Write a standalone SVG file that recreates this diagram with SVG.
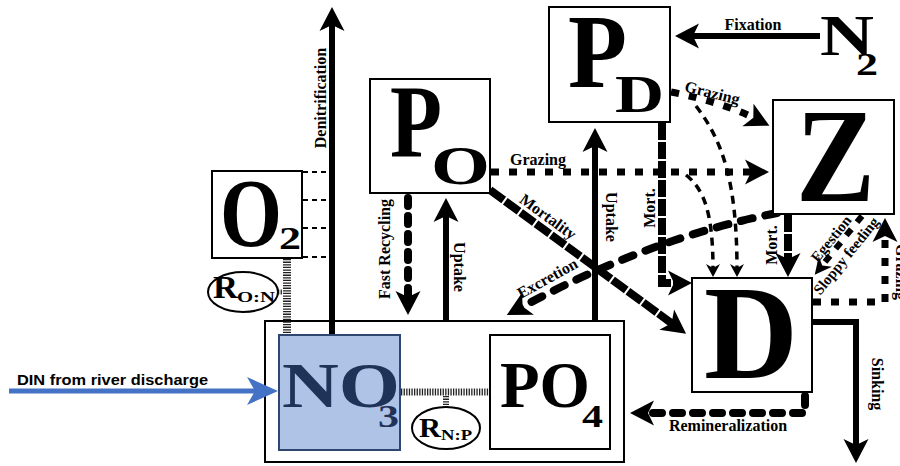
<svg xmlns="http://www.w3.org/2000/svg" width="900" height="466" viewBox="0 0 900 466">
<defs>
<marker id="ah" markerUnits="userSpaceOnUse" markerWidth="40" markerHeight="40" refX="0" refY="0" orient="auto" overflow="visible"><path d="M15,0 L-9,-12.5 L-3,0 L-9,12.5 Z" fill="#000"/></marker>
<marker id="am" markerUnits="userSpaceOnUse" markerWidth="30" markerHeight="30" refX="0" refY="0" orient="auto" overflow="visible"><path d="M10,0 L-7,-8.5 L-2,0 L-7,8.5 Z" fill="#000"/></marker>
<marker id="as" markerUnits="userSpaceOnUse" markerWidth="20" markerHeight="20" refX="0" refY="0" orient="auto" overflow="visible"><path d="M7,0 L-6,-7 L-2,0 L-6,7 Z" fill="#000"/></marker>
<marker id="ab" markerUnits="userSpaceOnUse" markerWidth="40" markerHeight="40" refX="0" refY="0" orient="auto" overflow="visible"><path d="M10,0 L-21,-14 L-13,0 L-21,14 Z" fill="#4472c4"/></marker>
</defs>
<style>
.box{fill:#fff;stroke:#000;stroke-width:2}
.big{font-family:"Liberation Serif","Times New Roman",serif;font-weight:bold;fill:#000}
.lbl{font-family:"Liberation Serif","Times New Roman",serif;font-weight:bold;font-size:16px;fill:#000}
.sm{font-size:15px}
.solid{fill:none;stroke:#000;stroke-width:6}
.seg{fill:none;stroke:#000;stroke-width:8;stroke-dasharray:17 2}
.dot{fill:none;stroke:#000;stroke-width:7;stroke-dasharray:8 10}
.rnd{fill:none;stroke:#000;stroke-width:8;stroke-linecap:round}
.thin{fill:none;stroke:#000;stroke-width:3.5;stroke-dasharray:8 6}
.hatch{fill:none;stroke:#222;stroke-width:8;stroke-dasharray:1.3 1.3}
.thd{fill:none;stroke:#000;stroke-width:2;stroke-dasharray:5 4}
</style>
<rect width="900" height="466" fill="#fff"/>

<g id="nutrients">
<rect class="box" x="265" y="321" width="359" height="141"/>
</g>

<g id="connectors">
<!-- Denitrification -->
<path class="solid" d="M332,335 V22" marker-end="url(#ah)"/>
<text class="lbl" transform="translate(326,98) rotate(-90)" text-anchor="middle">Denitrification</text>
<!-- O2 dashed links -->
<path class="thd" d="M303,172 H329 M303,200 H329 M303,228 H329 M303,257 H329"/>
<!-- hatched ratio links -->
<path class="hatch" d="M287,259 V335"/>
<path class="hatch" d="M278,292 H283" style="stroke-width:5"/>
<path class="hatch" d="M401,392 H490" style="stroke-width:7"/>
<path class="hatch" d="M446,396 V407" style="stroke-width:6"/>
<!-- Fast recycling -->
<path class="rnd" d="M408,198 V300" style="stroke-dasharray:8 10" marker-end="url(#ah)"/>
<text class="lbl" transform="translate(390,249) rotate(-90)" text-anchor="middle">Fast Recycling</text>
<!-- Uptake PO -->
<path class="solid" d="M446,321 V213" marker-end="url(#ah)"/>
<text class="lbl" transform="translate(454,267) rotate(90)" text-anchor="middle">Uptake</text>
<!-- Uptake PD -->
<path class="solid" d="M595,321 V143" marker-end="url(#ah)"/>
<text class="lbl" transform="translate(606,217) rotate(90)" text-anchor="middle">Uptake</text>
<!-- Fixation -->
<path class="solid" d="M820,36 H690" marker-end="url(#ah)"/>
<text class="lbl" x="753" y="30" text-anchor="middle">Fixation</text>
<!-- Grazing PO -> Z -->
<path class="dot" d="M491,172 H754" marker-end="url(#ah)"/>
<text class="lbl" x="538" y="165" text-anchor="middle">Grazing</text>
<!-- Grazing PD -> Z -->
<path class="dot" d="M671,92 Q722,102 756,119" marker-end="url(#ah)"/>
<text class="lbl" transform="translate(711,98) rotate(14)" text-anchor="middle">Grazing</text>
<!-- thin dashed from grazing to D -->
<path class="thin" d="M696,106 C722,140 737,180 737,270" marker-end="url(#as)"/>
<path class="thin" d="M686,175 C705,190 713,215 713,270" marker-end="url(#as)"/>
<!-- Mort PD -> D -->
<path class="seg" d="M662,123 V283 H677" marker-end="url(#ah)"/>
<text class="lbl" transform="translate(655,208) rotate(-90)" text-anchor="middle">Mort.</text>
<!-- Mortality PO -> D -->
<path class="seg" d="M490,190 L674,325" marker-end="url(#ah)"/>
<text class="lbl" transform="translate(545,221) rotate(36)" text-anchor="middle">Mortality</text>
<!-- Excretion Z -> nutrients -->
<path class="rnd" d="M777,213 Q650,238 520,308" style="stroke-dasharray:12 13" marker-end="url(#ah)"/>
<text class="lbl" transform="translate(550,283) rotate(-29)" text-anchor="middle">Excretion</text>
<!-- Mort Z -> D -->
<path class="seg" d="M788,215 V262" marker-end="url(#ah)"/>
<text class="lbl" transform="translate(777,245) rotate(-90)" text-anchor="middle">Mort.</text>
<!-- Egestion / sloppy feeding -->
<path class="dot" d="M862,216 L821,267" style="stroke-width:6;stroke-dasharray:8 9" marker-end="url(#am)"/>
<text class="lbl sm" transform="translate(835,242) rotate(-51)" text-anchor="middle">Egestion</text>
<text class="lbl sm" transform="translate(850,259) rotate(-51)" text-anchor="middle">Sloppy feeding</text>
<!-- Grazing D -> Z -->
<path class="dot" d="M813,302 H885 V233" marker-end="url(#ah)"/>
<text class="lbl" transform="translate(896,272) rotate(90)" text-anchor="middle">Grazing</text>
<!-- Sinking -->
<path class="solid" d="M813,322 H856 V448" marker-end="url(#ah)"/>
<text class="lbl" transform="translate(872,384) rotate(90)" text-anchor="middle">Sinking</text>
<!-- Remineralization -->
<path class="rnd" d="M805,396 V413 H645" style="stroke-dasharray:9 11" marker-end="url(#ah)"/>
<text class="lbl" x="728" y="431" text-anchor="middle">Remineralization</text>
<!-- DIN from river -->
<path d="M9,391 H268" fill="none" stroke="#4472c4" stroke-width="5" marker-end="url(#ab)"/>
<text x="17" y="385" font-family="'Liberation Sans',Arial,sans-serif" font-weight="bold" font-size="15.5" textLength="191" lengthAdjust="spacingAndGlyphs" fill="#000">DIN from river discharge</text>
</g>

<g id="n-O2">
<rect class="box" x="212" y="171" width="90" height="87"/>
<text class="big" x="220" y="246" font-size="97" textLength="62" lengthAdjust="spacingAndGlyphs">O</text>
<text class="big" x="279" y="249" font-size="32" textLength="22" lengthAdjust="spacingAndGlyphs">2</text>
</g>

<g id="n-RON">
<ellipse cx="243" cy="292" rx="35" ry="20" fill="#fff" stroke="#000" stroke-width="2"/>
<text class="big" x="213" y="298" font-size="32" textLength="25" lengthAdjust="spacingAndGlyphs">R</text>
<text class="big" x="237" y="302" font-size="15" textLength="38" lengthAdjust="spacingAndGlyphs">O:N</text>
</g>

<g id="n-PO">
<rect class="box" x="370" y="79" width="120" height="114"/>
<text class="big" x="390" y="157" font-size="104" textLength="52" lengthAdjust="spacingAndGlyphs">P</text>
<text class="big" x="431" y="184" font-size="54" textLength="59" lengthAdjust="spacingAndGlyphs">O</text>
</g>

<g id="n-PD">
<rect class="box" x="549" y="7" width="121" height="115"/>
<text class="big" x="568" y="87" font-size="106" textLength="59" lengthAdjust="spacingAndGlyphs">P</text>
<text class="big" x="615" y="112" font-size="53" textLength="49" lengthAdjust="spacingAndGlyphs">D</text>
</g>

<g id="n-N2">
<text class="big" x="820" y="55" font-size="57" textLength="54" lengthAdjust="spacingAndGlyphs">N</text>
<text class="big" x="856" y="75" font-size="32" textLength="22" lengthAdjust="spacingAndGlyphs">2</text>
</g>

<g id="n-Z">
<rect class="box" x="773" y="100" width="121" height="114"/>
<text class="big" x="796" y="201" font-size="133" textLength="79" lengthAdjust="spacingAndGlyphs">Z</text>
</g>

<g id="n-D">
<rect class="box" x="692" y="278" width="120" height="114"/>
<text class="big" x="704" y="378" font-size="133" textLength="94" lengthAdjust="spacingAndGlyphs">D</text>
</g>

<g id="n-NO3">
<rect x="279" y="335" width="121" height="115" fill="#aec3e6" stroke="#2e4670" stroke-width="2"/>
<text class="big" x="282" y="407" font-size="64" textLength="118" lengthAdjust="spacingAndGlyphs" style="fill:#1f3257">NO</text>
<text class="big" x="378" y="427" font-size="32" textLength="21" lengthAdjust="spacingAndGlyphs" style="fill:#1f3257">3</text>
</g>

<g id="n-PO4">
<rect class="box" x="490" y="335" width="120" height="114"/>
<text class="big" x="500" y="407" font-size="66" textLength="90" lengthAdjust="spacingAndGlyphs">PO</text>
<text class="big" x="582" y="427" font-size="32" textLength="21" lengthAdjust="spacingAndGlyphs">4</text>
</g>

<g id="n-RNP">
<ellipse cx="446" cy="428" rx="34" ry="21" fill="#fff" stroke="#000" stroke-width="2"/>
<text class="big" x="419" y="437" font-size="28" textLength="22" lengthAdjust="spacingAndGlyphs">R</text>
<text class="big" x="441" y="440" font-size="14" textLength="31" lengthAdjust="spacingAndGlyphs">N:P</text>
</g>
</svg>
